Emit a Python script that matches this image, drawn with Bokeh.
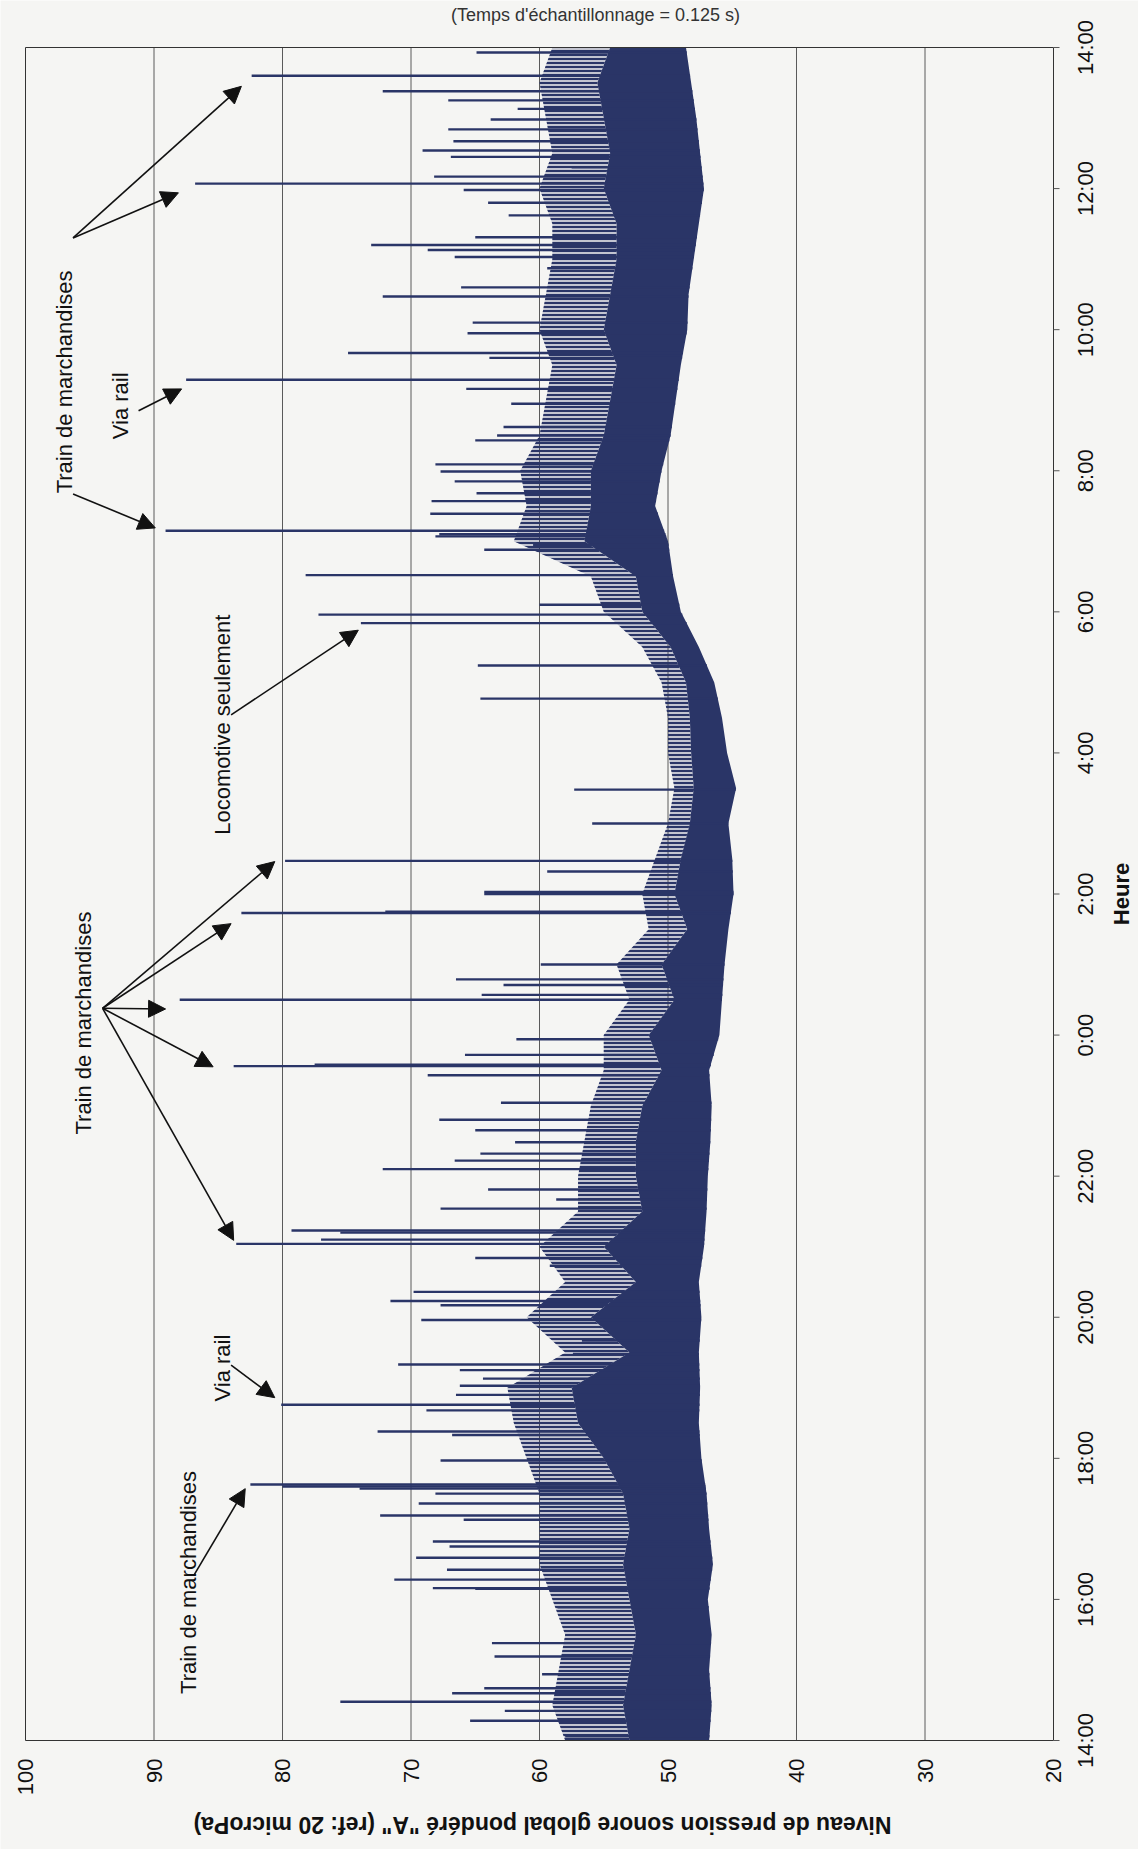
import numpy as np
from math import pi
from bokeh.plotting import figure
from bokeh.models import Range1d, Label, Arrow, NormalHead
from bokeh.core.properties import value
from bokeh.embed import file_html
from bokeh.resources import INLINE

# ---------------- data ----------------
# time axis: hours elapsed since 14:00 (0 .. 24)
time_ticks = [0, 2, 4, 6, 8, 10, 12, 14, 16, 18, 20, 22, 24]
time_labels = ["14:00", "16:00", "18:00", "20:00", "22:00", "0:00", "2:00",
               "4:00", "6:00", "8:00", "10:00", "12:00", "14:00"]
db_ticks = [100, 90, 80, 70, 60, 50, 40, 30, 20]
db_labels = ["100", "90", "80", "70", "60", "50", "40", "30", "20"]

# background level, sampled every half hour
band_hours = [i * 0.5 for i in range(49)]
# lowest level reached
band_low = [46.8, 46.6, 46.8, 46.6, 46.9, 46.5, 46.8, 47.0, 47.4, 47.6,
            47.5, 47.6, 47.4, 47.6, 47.2, 47.0, 46.9, 46.7, 46.6, 46.8,
            46.0, 45.8, 45.6, 45.3, 44.9, 45.0, 45.3, 44.7, 45.4, 45.8,
            46.4, 47.6, 49.0, 49.6, 50.0, 51.0, 50.5, 49.8, 49.4, 49.0,
            48.5, 48.4, 48.0, 47.6, 47.2, 47.5, 47.8, 48.2, 48.6]
# upper edge of the solid dense core
band_high = [53.0, 53.5, 53.0, 52.5, 53.0, 53.5, 53.0, 53.5, 55.0, 57.0,
             57.5, 53.0, 56.0, 52.5, 55.0, 52.0, 52.5, 52.5, 52.0, 50.5,
             51.5, 49.5, 50.5, 48.5, 49.5, 49.0, 48.3, 48.0, 48.2, 48.3,
             48.6, 49.8, 52.0, 52.5, 56.5, 56.0, 56.0, 55.0, 54.5, 54.0,
             55.0, 54.5, 54.0, 54.0, 55.0, 54.5, 55.0, 55.5, 54.5]
# level commonly reached by the crowded short peaks
fringe_high = [58.0, 59.0, 58.5, 58.0, 59.0, 60.0, 60.0, 60.0, 61.0, 62.0,
               62.5, 58.0, 61.0, 58.0, 60.0, 57.0, 57.0, 56.5, 56.0, 55.0,
               55.0, 53.0, 54.0, 51.5, 52.0, 51.0, 50.0, 49.5, 50.0, 50.0,
               50.5, 52.0, 55.0, 56.0, 62.0, 61.0, 61.5, 60.0, 59.5, 59.0,
               60.0, 59.5, 59.0, 59.0, 60.0, 59.0, 59.5, 60.0, 59.0]

# individual peaks (hour since 14:00, peak level dB)
spike_hours = [0.06, 0.28, 0.42, 0.55, 0.67, 0.74, 0.94, 1.19, 1.38, 1.89,
               2.15, 2.16, 2.28, 2.42, 2.59, 2.75, 2.82, 3.13, 3.19, 3.36,
               3.50, 3.57, 3.60, 3.63,
               3.97, 4.33, 4.38, 4.68, 4.76, 4.90, 5.03, 5.13, 5.25, 5.33,
               5.48, 5.67, 5.96, 6.17, 6.23, 6.36, 6.73, 6.84, 7.04, 7.10,
               7.20, 7.23, 7.54, 7.67, 7.81,
               8.10, 8.22, 8.32, 8.48, 8.65, 8.80, 9.04, 9.43, 9.56, 9.58,
               9.72, 9.94, 10.50, 10.57, 10.71, 10.79, 11.00, 11.73, 11.75,
               12.00,
               12.03, 12.32, 12.47, 13.00, 13.48, 14.77, 15.24, 15.84, 15.96,
               16.10, 16.52, 16.88, 16.95, 17.07, 17.10, 17.15, 17.39, 17.57,
               17.68, 17.85, 17.99, 18.09, 18.43, 18.50, 18.62, 18.95, 19.16,
               19.29, 19.60, 19.67, 19.95,
               20.10, 20.47, 20.60, 20.87, 21.03, 21.13, 21.20, 21.31, 21.62,
               21.80, 21.98, 22.07, 22.17, 22.30, 22.45, 22.54, 22.67, 22.84,
               22.98, 23.13, 23.25, 23.38, 23.60, 23.93]
spike_peaks = [58.0, 65.4, 62.7, 75.5, 66.8, 64.3, 59.8, 63.5, 63.7, 58.6,
               65.0, 68.3, 71.3, 67.2, 69.6, 67.0, 68.3, 65.9, 72.4, 69.4,
               68.1, 74.0, 80.0, 82.5,
               67.7, 66.8, 72.6, 68.8, 80.1, 66.5, 66.2, 64.4, 66.2, 71.0,
               57.4, 56.7, 69.2, 67.7, 71.6, 69.8, 59.2, 65.0, 83.6, 77.0,
               75.5, 79.3, 67.7, 58.7, 64.0,
               72.2, 66.6, 64.6, 61.9, 65.0, 67.8, 63.0, 68.7, 83.8, 77.5,
               65.8, 61.8, 88.0, 64.5, 62.8, 66.5, 59.9, 83.2, 72.0,
               64.3,
               64.3, 59.4, 79.8, 55.9, 57.3, 64.6, 64.8, 73.9, 77.2,
               60.0, 78.2, 64.3, 60.5, 68.1, 67.8, 89.1, 68.5, 68.4,
               64.9, 66.6, 67.7, 68.1, 65.0, 63.3, 62.8, 62.2, 65.7,
               87.5, 63.9, 74.9, 65.6,
               65.2, 72.2, 66.1, 59.4, 66.6, 68.7, 73.1, 65.0, 62.4,
               64.0, 65.9, 86.8, 68.2, 57.5, 66.9, 69.1, 66.7, 67.1,
               63.8, 61.7, 67.1, 72.2, 82.4, 64.9]

# annotations
note_texts = ["Train de marchandises", "Via rail", "Train de marchandises",
              "Locomotive seulement", "Train de marchandises", "Via rail"]
note_db = [87.3, 84.7, 95.5, 84.7, 97.0, 92.6]
note_h = [2.24, 5.28, 10.17, 14.40, 19.26, 18.92]

arrow_db0 = [86.9, 84.0, 94.0, 94.0, 94.0, 94.0, 94.0, 84.0, 96.3, 96.3, 96.3, 91.2]
arrow_h0 = [2.34, 5.32, 10.38, 10.38, 10.38, 10.38, 10.38, 14.54, 17.67, 21.30, 21.30, 18.85]
arrow_db1 = [82.9, 80.6, 80.6, 84.0, 89.1, 85.4, 83.8, 74.1, 89.9, 88.1, 83.2, 87.85]
arrow_h1 = [3.57, 4.86, 12.46, 11.58, 10.37, 9.55, 7.09, 15.74, 17.19, 21.94, 23.45, 19.16]

x_title = 'Niveau de pression sonore global pondéré "A" (ref: 20 microPa)'
y_title = "Heure"
caption = "(Temps d'échantillonnage = 0.125 s)"

# ---------------- layout (page pixels) ----------------
W, H = 1138, 1849
FR_L, FR_R, FR_T, FR_B = 25, 1053, 47, 1740
XS = (FR_R - FR_L) / 80.0        # px per dB
YS = (FR_B - FR_T) / 24.0        # px per hour


def X(px):
    return 100 - (px - FR_L) / XS


def Y(py):
    return (FR_B - py) / YS


NAVY = "#2A3567"
BG = "#F5F5F3"
INK = "#111111"
FONT = "Liberation Sans"

p = figure(width=W, height=H,
           x_range=Range1d(X(0), X(W)), y_range=Range1d(Y(H), Y(0)),
           output_backend="svg", toolbar_location=None, min_border=0)
p.axis.visible = False
p.grid.visible = False
p.outline_line_color = None
p.background_fill_color = BG
p.border_fill_color = BG

# grid lines (inner dB ticks)
grid_db = db_ticks[1:-1]
p.segment(x0=grid_db, y0=[0] * len(grid_db), x1=grid_db, y1=[24] * len(grid_db),
          line_color="#5a5a5a", line_width=1)

# data
p.harea(x1=band_high, x2=fringe_high, y=band_hours, fill_color=NAVY, fill_alpha=0.25,
        hatch_pattern="horizontal_line", hatch_color=NAVY, hatch_scale=4, hatch_weight=2)
p.harea(x1=band_low, x2=band_high, y=band_hours, fill_color=NAVY, fill_alpha=1.0)
spike_base = np.interp(spike_hours, band_hours, band_low)
p.segment(x0=spike_base, y0=spike_hours, x1=spike_peaks, y1=spike_hours,
          line_color=NAVY, line_width=2.4)

# frame
p.quad(left=100, right=20, bottom=0, top=24, fill_alpha=0, line_color="#333333", line_width=1)

# time axis ticks and labels (right side)
n_t = len(time_ticks)
p.segment(x0=[20] * n_t, y0=time_ticks, x1=[X(FR_R + 6)] * n_t, y1=time_ticks,
          line_color="#555555", line_width=1)
p.text(x=[X(1085)] * n_t, y=time_ticks, text=time_labels, angle=pi / 2,
       text_align="center", text_baseline="middle", text_font=value(FONT),
       text_font_size="22px", text_color=INK)

# dB axis labels (bottom)
p.text(x=db_ticks, y=[Y(1758)] * len(db_ticks), text=db_labels, angle=pi / 2,
       text_align="right", text_baseline="middle", text_font=value(FONT),
       text_font_size="22px", text_color=INK)

# axis titles and caption
p.text(x=[X(1121)], y=[12.0], text=[y_title], angle=pi / 2, text_align="center",
       text_baseline="middle", text_font=value(FONT), text_font_size="22px",
       text_font_style="bold", text_color=INK)
p.text(x=[X(542)], y=[Y(1824)], text=[x_title], angle=pi, text_align="center",
       text_baseline="middle", text_font=value(FONT), text_font_size="23px",
       text_font_style="bold", text_color=INK)
p.text(x=[X(595)], y=[Y(14)], text=[caption], text_align="center",
       text_baseline="middle", text_font=value(FONT), text_font_size="18px",
       text_color="#333333")

# annotations
for t, xd, yh in zip(note_texts, note_db, note_h):
    p.add_layout(Label(x=xd, y=yh, text=t, angle=pi / 2, text_align="center",
                       text_baseline="middle", text_font=FONT, text_font_size="22px",
                       text_color=INK))

for x0, y0, x1, y1 in zip(arrow_db0, arrow_h0, arrow_db1, arrow_h1):
    p.add_layout(Arrow(end=NormalHead(size=17, fill_color=INK, line_color=INK, line_width=1),
                       x_start=x0, y_start=y0, x_end=x1, y_end=y1,
                       line_color=INK, line_width=1.6))

open("out.html", "w").write(file_html(p, INLINE))
